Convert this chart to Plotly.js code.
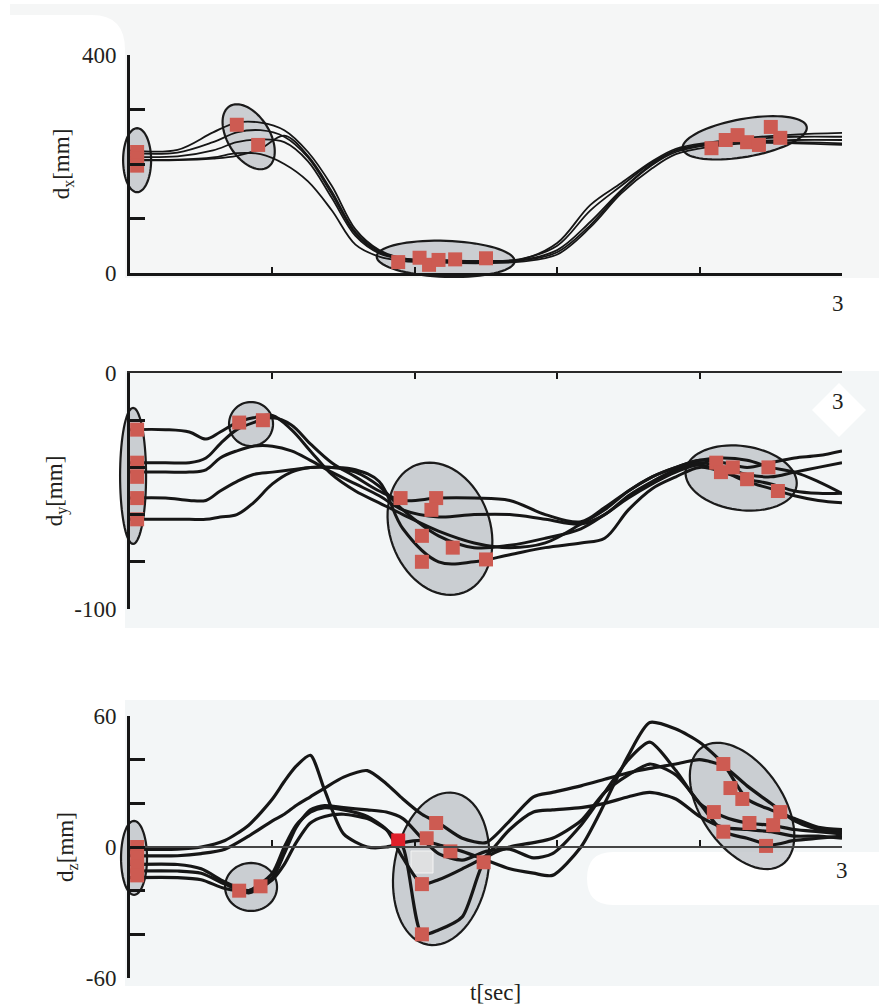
<!DOCTYPE html>
<html>
<head>
<meta charset="utf-8">
<script src="https://cdn.plot.ly/plotly-3.0.1.min.js"></script>
<style>
  html, body { margin: 0; padding: 0; background: #ffffff; }
  #chart { width: 879px; height: 1007px; }
</style>
</head>
<body>
<div id="chart"></div>
<script>
// ---- displacement trajectories, five trials per component ----
const tX = [0, 0.2, 0.35, 0.45, 0.55, 0.65, 0.75, 0.85, 0.95, 1.05, 1.15, 1.3, 1.5, 1.65, 1.8, 1.94, 2.07, 2.2, 2.3, 2.45, 2.6, 2.8, 3.0];
const dx1 = [225, 226, 258, 276, 276, 262, 222, 160, 80, 42, 27, 24, 22, 25, 55, 125, 165, 205, 228, 240, 248, 254, 257];
const dx2 = [220, 221, 240, 258, 262, 250, 212, 145, 72, 38, 26, 22, 21, 24, 42, 94, 152, 200, 225, 238, 245, 250, 250];
const dx3 = [213, 214, 225, 240, 245, 240, 205, 138, 68, 36, 25, 22, 20, 23, 38, 88, 150, 198, 222, 236, 242, 244, 244];
const dx4 = [208, 208, 212, 220, 218, 200, 168, 115, 52, 30, 22, 19, 18, 21, 34, 84, 146, 192, 218, 232, 238, 238, 235];
const dx5 = [207, 207, 210, 215, 228, 252, 215, 150, 75, 40, 27, 23, 22, 26, 50, 115, 160, 203, 225, 235, 240, 240, 238];

const tY = [0, 0.15, 0.25, 0.32, 0.38, 0.45, 0.52, 0.6, 0.68, 0.76, 0.85, 0.95, 1.05, 1.15, 1.3, 1.45, 1.6, 1.75, 1.9, 2.0, 2.1, 2.2, 2.3, 2.4, 2.5, 2.6, 2.7, 2.8, 2.9, 3.0];
const dy1 = [-24, -24, -25, -28, -25, -21, -19, -18, -24, -33, -43, -50, -55, -60, -67, -72, -74, -72, -64, -58, -50, -44, -40, -37, -36, -37, -40, -42, -46, -51];
const dy2 = [-38, -38, -38, -36, -30, -24, -21, -19, -22, -30, -38, -44, -50, -54, -53, -53, -54, -60, -63, -57, -50, -44, -40, -37, -38, -40, -38, -36, -35, -33];
const dy3 = [-42, -42, -42, -41, -36, -33, -31, -31, -33, -37, -42, -47, -52, -58, -61, -60, -60, -62, -64, -60, -52, -46, -41, -38, -40, -43, -44, -42, -40, -38];
const dy4 = [-53, -53, -54, -54, -50, -46, -43, -42, -41, -40, -40, -42, -48, -58, -69, -74, -73, -70, -66, -60, -53, -47, -42, -39, -42, -45, -47, -50, -51, -51];
const dy5 = [-62, -62, -62, -62, -61, -60, -55, -47, -42, -40, -40, -41, -46, -66, -80, -80, -77, -74, -72, -70, -58, -49, -44, -40, -42, -46, -49, -52, -54, -55];

const tZ = [0, 0.2, 0.3, 0.4, 0.5, 0.6, 0.65, 0.7, 0.76, 0.82, 0.9, 1.0, 1.08, 1.15, 1.23, 1.3, 1.4, 1.5, 1.6, 1.7, 1.78, 1.9, 2.0, 2.1, 2.19, 2.3, 2.4, 2.5, 2.6, 2.7, 2.8, 2.9, 3.0];
const dz1 = [-1, -1, 0, 3, 10, 22, 30, 37, 42, 26, 6, 0, 0, 2, 3, 1, -2, -6, -10, -12, -13, 0, 20, 42, 57, 54, 48, 38, 22, 17, 13, 9, 8];
const dz2 = [-4, -4, -3, -1, 5, 12, 15, 19, 23, 27, 32, 35, 29, 22, 15, 11, 4, 2, 12, 23, 25, 28, 31, 34, 36, 38, 40, 37, 28, 20, 12, 8, 7];
const dz3 = [-8, -8, -10, -16, -20, -14, -3, 9, 17, 19, 18, 17, 16, 13, 4, -3, -6, -2, -1, -5, -3, 10, 25, 40, 48, 35, 20, 14, 11, 10, 8, 7, 6];
const dz4 = [-11, -11, -12, -17, -21, -15, -8, 2, 11, 14, 15, 13, 8, 0, -40, -38, -32, -5, 0, 2, 4, 12, 25, 33, 38, 33, 20, 7, 4, 1, 3, 4, 5];
const dz5 = [-14, -14, -15, -19, -20, -12, 0, 10, 16, 18, 17, 14, 8, -5, -17, -15, -10, -4, 8, 16, 17, 18, 20, 23, 25, 22, 14, 9, 8, 7, 5, 5, 4];

// ---- key poses picked along the trajectories ----
const keyXt = [0.03, 0.03, 0.03, 0.45, 0.54, 1.13, 1.22, 1.26, 1.3, 1.37, 1.5, 2.45, 2.51, 2.56, 2.6, 2.65, 2.7, 2.74];
const keyXv = [222, 210, 197, 272, 235, 20, 28, 15, 24, 25, 27, 229, 244, 253, 240, 235, 268, 248];
const keyYt = [0.03, 0.03, 0.03, 0.03, 0.03, 0.46, 0.56, 1.14, 1.29, 1.27, 1.23, 1.36, 1.23, 1.5, 2.47, 2.49, 2.54, 2.6, 2.69, 2.73];
const keyYv = [-24, -38, -44, -53, -62, -21, -20, -53, -53, -58, -69, -74, -80, -79, -38, -42, -40, -45, -40, -50];
const keyZt = [0.03, 0.03, 0.03, 0.03, 0.46, 0.55, 1.29, 1.25, 1.35, 1.49, 1.23, 1.23, 2.5, 2.53, 2.58, 2.74, 2.46, 2.61, 2.71, 2.5, 2.68];
const keyZv = [0, -5, -9, -13, -20, -18, 11, 4, -2, -7, -17, -40, 38, 27, 22, 16, 16, 11, 10, 7, 0.5];
const extraZt = [1.13];
const extraZv = [3];

// ---- axis ticks (labelled ends, unlabelled minor steps) ----
const timeTicks = [0, 0.6, 1.2, 1.8, 2.4, 3];
const xLabelVals = [0, 400], xLabelText = ['0', '400'], xStep = 100;
const yLabelVals = [0, -100], yLabelText = ['0', '-100'], yStep = 20;
const zLabelVals = [60, 0, -60], zLabelText = ['60', '0', '-60'], zStep = 20;

// ---- page geometry (pixels) ----
const W = 879, H = 1007;
const T0 = 130, T3 = 842;
const panels = [
  { top: 55, bot: 273, min: 0, max: 400 },
  { top: 373, bot: 609, min: -100, max: 0 },
  { top: 716, bot: 978, min: -60, max: 60 }
];
const SERIF = '"Liberation Serif", "Times New Roman", Times, serif';
const INK = '#161616';

const px = x => x / W;
const py = y => 1 - y / H;
const tToPaper = t => (T0 + t * (T3 - T0) / 3) / W;
const vToPaper = (p, v) => 1 - (p.bot - (v - p.min) / (p.max - p.min) * (p.bot - p.top)) / H;
const dom = p => [1 - p.bot / H, 1 - p.top / H];

// group ellipses: centre in data units, semi-axes in px, tilt in degrees (clockwise on screen)
const groups = [
  [0, 0.03, 207, 14, 32, 0], [0, 0.50, 250, 36, 21, 58], [0, 1.33, 26, 69, 18, 2], [0, 2.59, 248, 63, 19, -10],
  [1, 0.013, -43.6, 13, 68, 0], [1, 0.51, -21.6, 22, 22, 0], [1, 1.306, -66, 68, 50, 70], [1, 2.575, -44.5, 56, 32, 8],
  [2, 0.017, -5, 13, 37, 0], [2, 0.51, -18.3, 26, 24, 0], [2, 1.311, -10, 77, 47, -80], [2, 2.579, 18.8, 71, 41, 56]
];

function ellipsePath(a, b, deg) {
  const r = deg * Math.PI / 180;
  let d = '';
  for (let k = 0; k <= 72; k++) {
    const th = 2 * Math.PI * k / 72;
    const ex = a * Math.cos(th), ey = b * Math.sin(th);
    const sx = ex * Math.cos(r) - ey * Math.sin(r);
    const sy = ex * Math.sin(r) + ey * Math.cos(r);
    d += (k ? 'L' : 'M') + sx.toFixed(2) + ',' + (-sy).toFixed(2);
  }
  return d + 'Z';
}

function polyPath(pts) {
  return pts.map((p, i) => (i ? 'L' : 'M') + px(p[0]).toFixed(5) + ',' + py(p[1]).toFixed(5)).join('') + 'Z';
}

const shapes = [];
// panel backgrounds
shapes.push({ type: 'path', xref: 'paper', yref: 'paper', layer: 'below', line: { width: 0 }, fillcolor: '#f5f6f6',
  path: 'M' + px(10) + ',' + py(4) + 'L' + px(879) + ',' + py(4) + 'L' + px(879) + ',' + py(278) + 'L' + px(125) + ',' + py(278) +
        'L' + px(125) + ',' + py(50) + 'Q' + px(125) + ',' + py(15) + ' ' + px(92) + ',' + py(15) + 'L' + px(10) + ',' + py(15) + 'Z' });
shapes.push({ type: 'rect', xref: 'paper', yref: 'paper', layer: 'below', line: { width: 0 }, fillcolor: '#f3f6f7',
  x0: px(125), x1: px(879), y0: py(628), y1: py(371) });
shapes.push({ type: 'rect', xref: 'paper', yref: 'paper', layer: 'below', line: { width: 0 }, fillcolor: '#f3f6f7',
  x0: px(125), x1: px(879), y0: py(986), y1: py(700) });
// white label patches
shapes.push({ type: 'path', xref: 'paper', yref: 'paper', layer: 'below', line: { width: 0 }, fillcolor: '#ffffff',
  path: polyPath([[839, 383], [866, 410], [839, 437], [812, 410]]) });
shapes.push({ type: 'path', xref: 'paper', yref: 'paper', layer: 'below', line: { width: 0 }, fillcolor: '#ffffff',
  path: 'M' + px(613) + ',' + py(852) + 'L' + px(879) + ',' + py(852) + 'L' + px(879) + ',' + py(905) + 'L' + px(613) + ',' + py(905) +
        'Q' + px(587) + ',' + py(905) + ' ' + px(587) + ',' + py(878.5) + 'Q' + px(587) + ',' + py(852) + ' ' + px(613) + ',' + py(852) + 'Z' });
// group ellipses
groups.forEach(g => {
  const p = panels[g[0]];
  shapes.push({
    type: 'path', xref: 'paper', yref: 'paper', layer: 'below',
    xsizemode: 'pixel', ysizemode: 'pixel',
    xanchor: tToPaper(g[1]), yanchor: vToPaper(p, g[2]),
    path: ellipsePath(g[3], g[4], g[5]),
    fillcolor: 'rgba(188,192,197,0.75)', line: { color: '#1b1b1b', width: 2.2 }
  });
});
// pale square inside the middle dz group
shapes.push({ type: 'rect', xref: 'paper', yref: 'paper', layer: 'below', fillcolor: '#dfe0e1', line: { color: '#f4f4f4', width: 1 },
  x0: px(411), x1: px(433), y0: py(873), y1: py(851) });

const traces = [];
function addLines(t, series, xa, ya, width, smoothing) {
  series.forEach(v => traces.push({
    x: t, y: v, xaxis: xa, yaxis: ya, type: 'scatter', mode: 'lines',
    line: { color: INK, width: width, shape: 'spline', smoothing: smoothing },
    hoverinfo: 'skip', showlegend: false, cliponaxis: false
  }));
}
function addKeys(t, v, xa, ya, color) {
  traces.push({
    x: t, y: v, xaxis: xa, yaxis: ya, type: 'scatter', mode: 'markers',
    marker: { symbol: 'square', size: 14, color: color, line: { width: 0 } },
    hoverinfo: 'skip', showlegend: false, cliponaxis: false
  });
}
addLines(tX, [dx1, dx2, dx3, dx4, dx5], 'x', 'y', 1.8, 1);
addLines(tY, [dy1, dy2, dy3, dy4, dy5], 'x2', 'y2', 3, 1);
addLines(tZ, [dz1, dz2, dz3, dz4, dz5], 'x3', 'y3', 3.2, 0.7);
addKeys(keyXt, keyXv, 'x', 'y', '#cd5b52');
addKeys(keyYt, keyYv, 'x2', 'y2', '#cd5b52');
addKeys(keyZt, keyZv, 'x3', 'y3', '#cd5b52');
addKeys(extraZt, extraZv, 'x3', 'y3', '#e0202b');

function tickFont() { return { family: SERIF, size: 23, color: '#231f20' }; }

function timeAxis(extra) {
  return Object.assign({
    domain: [T0 / W, T3 / W], range: [0, 3], showgrid: false, zeroline: false,
    tickmode: 'array', tickvals: timeTicks, showticklabels: false,
    ticks: 'inside', ticklen: 6, tickwidth: 2, tickcolor: INK,
    showline: true, linecolor: INK, fixedrange: true
  }, extra);
}
function valueAxis(p, vals, text, step, title, anchor) {
  return {
    domain: dom(p), range: [p.min, p.max], anchor: anchor, showgrid: false, zeroline: false,
    tickmode: 'array', tickvals: vals, ticktext: text, tickfont: tickFont(),
    ticks: 'inside', ticklen: 15, tickwidth: 3, tickcolor: INK, ticklabelstandoff: 6,
    minor: { tick0: 0, dtick: step, ticks: 'inside', ticklen: 15, tickwidth: 3, tickcolor: INK, showgrid: false },
    showline: true, linecolor: INK, linewidth: 3, fixedrange: true,
    title: { text: title, font: tickFont(), standoff: 6 }
  };
}

const layout = {
  width: W, height: H,
  margin: { l: 0, r: 0, t: 0, b: 0 },
  font: { family: SERIF, size: 23, color: '#231f20' },
  paper_bgcolor: '#ffffff', plot_bgcolor: 'rgba(0,0,0,0)',
  showlegend: false,
  xaxis: timeAxis({ anchor: 'y', linewidth: 3 }),
  xaxis2: timeAxis({ anchor: 'y2', side: 'top', linewidth: 2, linecolor: '#2a2a2a' }),
  xaxis3: timeAxis({ anchor: 'free', position: 1 - 847 / H, linewidth: 2, linecolor: '#454545' }),
  yaxis: valueAxis(panels[0], xLabelVals, xLabelText, xStep, 'd<sub>x</sub>[mm]', 'x'),
  yaxis2: valueAxis(panels[1], yLabelVals, yLabelText, yStep, 'd<sub>y</sub>[mm]', 'x2'),
  yaxis3: valueAxis(panels[2], zLabelVals, zLabelText, zStep, 'd<sub>z</sub>[mm]', 'x3'),
  shapes: shapes,
  annotations: [
    { xref: 'paper', yref: 'paper', x: px(838), y: py(304), text: '3', showarrow: false, font: tickFont(), xanchor: 'center', yanchor: 'middle' },
    { xref: 'paper', yref: 'paper', x: px(838), y: py(402), text: '3', showarrow: false, font: tickFont(), xanchor: 'center', yanchor: 'middle' },
    { xref: 'paper', yref: 'paper', x: px(842), y: py(870), text: '3', showarrow: false, font: tickFont(), xanchor: 'center', yanchor: 'middle' },
    { xref: 'paper', yref: 'paper', x: px(495), y: py(992), text: 't[sec]', showarrow: false, font: tickFont(), xanchor: 'center', yanchor: 'middle' }
  ]
};

Plotly.newPlot('chart', traces, layout, { staticPlot: true, displayModeBar: false });
</script>
</body>
</html>
